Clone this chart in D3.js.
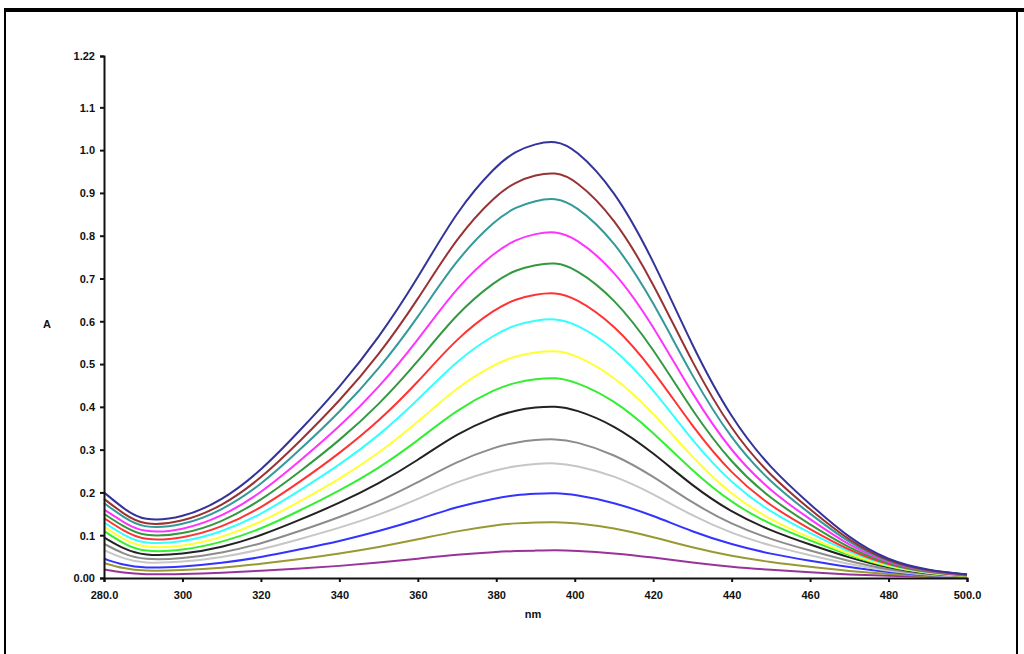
<!DOCTYPE html>
<html>
<head>
<meta charset="utf-8">
<script src="https://cdn.jsdelivr.net/npm/d3@7"></script>
<style>
  body { margin: 0; background: #fff; }
  svg { display: block; }
  .tick-label { font-family: "Liberation Sans", Arial, sans-serif; font-size: 11px; font-weight: bold; fill: #111; }
</style>
</head>
<body>
<div id="chart"></div>
<script>
const wavelengths = [280, 285, 290, 300, 310, 320, 330, 340, 350, 360, 370, 380, 385, 390, 395, 400, 410, 420, 430, 440, 450, 460, 470, 480, 490, 500];

const s1  = [0.200, 0.162, 0.132, 0.140, 0.180, 0.250, 0.345, 0.445, 0.560, 0.700, 0.860, 0.965, 0.998, 1.015, 1.023, 1.005, 0.910, 0.745, 0.540, 0.370, 0.255, 0.172, 0.092, 0.040, 0.018, 0.008];
const s2  = [0.185, 0.150, 0.122, 0.130, 0.167, 0.232, 0.320, 0.413, 0.520, 0.650, 0.798, 0.896, 0.926, 0.942, 0.949, 0.933, 0.845, 0.691, 0.501, 0.343, 0.237, 0.160, 0.086, 0.037, 0.017, 0.008];
const s3  = [0.175, 0.142, 0.115, 0.122, 0.157, 0.217, 0.300, 0.387, 0.487, 0.608, 0.747, 0.839, 0.867, 0.882, 0.889, 0.873, 0.791, 0.647, 0.469, 0.322, 0.222, 0.150, 0.081, 0.036, 0.016, 0.008];
const s4  = [0.160, 0.130, 0.105, 0.111, 0.143, 0.198, 0.274, 0.353, 0.444, 0.555, 0.682, 0.765, 0.791, 0.805, 0.811, 0.797, 0.722, 0.591, 0.428, 0.293, 0.202, 0.137, 0.075, 0.034, 0.015, 0.007];
const s5  = [0.150, 0.120, 0.096, 0.101, 0.130, 0.181, 0.249, 0.321, 0.404, 0.505, 0.620, 0.696, 0.720, 0.732, 0.738, 0.725, 0.656, 0.537, 0.389, 0.267, 0.184, 0.125, 0.069, 0.032, 0.014, 0.007];
const s6  = [0.140, 0.110, 0.087, 0.092, 0.118, 0.163, 0.225, 0.291, 0.366, 0.457, 0.562, 0.631, 0.652, 0.663, 0.668, 0.656, 0.594, 0.487, 0.353, 0.242, 0.167, 0.114, 0.064, 0.030, 0.013, 0.006];
const s7  = [0.130, 0.100, 0.079, 0.083, 0.107, 0.148, 0.205, 0.264, 0.332, 0.415, 0.510, 0.572, 0.592, 0.602, 0.607, 0.596, 0.540, 0.442, 0.320, 0.220, 0.153, 0.105, 0.060, 0.028, 0.012, 0.006];
const s8  = [0.120, 0.090, 0.070, 0.073, 0.094, 0.130, 0.179, 0.231, 0.291, 0.364, 0.447, 0.502, 0.519, 0.528, 0.532, 0.523, 0.473, 0.387, 0.281, 0.193, 0.135, 0.094, 0.055, 0.026, 0.011, 0.005];
const s9  = [0.110, 0.080, 0.060, 0.064, 0.083, 0.114, 0.158, 0.204, 0.256, 0.321, 0.394, 0.443, 0.457, 0.465, 0.469, 0.460, 0.417, 0.341, 0.250, 0.175, 0.124, 0.088, 0.052, 0.025, 0.011, 0.005];
const s10 = [0.095, 0.068, 0.052, 0.055, 0.071, 0.099, 0.136, 0.175, 0.220, 0.275, 0.338, 0.379, 0.392, 0.399, 0.402, 0.395, 0.358, 0.293, 0.215, 0.153, 0.110, 0.078, 0.047, 0.023, 0.010, 0.005];
const s11 = [0.080, 0.056, 0.042, 0.045, 0.058, 0.080, 0.110, 0.142, 0.178, 0.223, 0.273, 0.307, 0.317, 0.323, 0.325, 0.320, 0.290, 0.238, 0.175, 0.125, 0.090, 0.064, 0.039, 0.019, 0.008, 0.004];
const s12 = [0.065, 0.045, 0.034, 0.037, 0.048, 0.066, 0.091, 0.117, 0.147, 0.184, 0.226, 0.253, 0.262, 0.267, 0.269, 0.264, 0.240, 0.197, 0.145, 0.104, 0.075, 0.053, 0.032, 0.016, 0.007, 0.003];
const s13 = [0.045, 0.030, 0.023, 0.026, 0.035, 0.048, 0.067, 0.086, 0.109, 0.136, 0.167, 0.187, 0.194, 0.197, 0.199, 0.195, 0.177, 0.146, 0.108, 0.078, 0.056, 0.040, 0.025, 0.013, 0.006, 0.003];
const s14 = [0.035, 0.022, 0.016, 0.018, 0.023, 0.033, 0.044, 0.057, 0.072, 0.090, 0.110, 0.124, 0.128, 0.130, 0.131, 0.129, 0.117, 0.096, 0.071, 0.051, 0.037, 0.026, 0.016, 0.009, 0.004, 0.002];
const s15 = [0.020, 0.012, 0.008, 0.009, 0.012, 0.017, 0.022, 0.028, 0.036, 0.045, 0.055, 0.061, 0.063, 0.064, 0.065, 0.064, 0.058, 0.048, 0.036, 0.026, 0.019, 0.013, 0.008, 0.005, 0.003, 0.002];

const seriesColors = ['#333399', '#993333', '#339999', '#ff33ff', '#339940', '#ff3333', '#33ffff', '#ffff33',
                      '#33ee33', '#222222', '#8c8c8c', '#c6c6c6', '#3333ff', '#999933', '#993399'];

const yTicks = [0, 0.1, 0.2, 0.3, 0.4, 0.5, 0.6, 0.7, 0.8, 0.9, 1.0, 1.1, 1.22];
const yTickLabels = ['0.00', '0.1', '0.2', '0.3', '0.4', '0.5', '0.6', '0.7', '0.8', '0.9', '1.0', '1.1', '1.22'];
const xTicks = [280, 300, 320, 340, 360, 380, 400, 420, 440, 460, 480, 500];
const xTickLabels = ['280.0', '300', '320', '340', '360', '380', '400', '420', '440', '460', '480', '500.0'];

const allSeries = [s1, s2, s3, s4, s5, s6, s7, s8, s9, s10, s11, s12, s13, s14, s15];

const W = 1024, H = 654;
const svg = d3.select('#chart').append('svg')
    .attr('width', W)
    .attr('height', H);

// page frame (thick top, thin sides)
svg.append('rect').attr('x', 4).attr('y', 8).attr('width', W - 4).attr('height', 4).attr('fill', '#000');
svg.append('rect').attr('x', 4).attr('y', 8).attr('width', 2).attr('height', H - 8).attr('fill', '#000');
svg.append('rect').attr('x', 1016).attr('y', 8).attr('width', 2).attr('height', H - 8).attr('fill', '#000');

const x = d3.scaleLinear().domain([280, 500]).range([104, 967]);
const y = d3.scaleLinear().domain([0, 1.22]).range([578, 56]);

// curves, bottom one drawn first; basis smooths the hand-read points
const line = d3.line()
    .x((d, i) => x(wavelengths[i]))
    .y(d => y(d))
    .curve(d3.curveBasis);

svg.append('g')
    .selectAll('path')
    .data(allSeries.slice().reverse())
    .enter()
    .append('path')
    .attr('d', d => line(d))
    .attr('fill', 'none')
    .attr('stroke', (d, i) => seriesColors[allSeries.length - 1 - i])
    .attr('stroke-width', 2);

// Y axis
const yAxis = svg.append('g')
    .attr('transform', `translate(${x(280)},0)`)
    .call(d3.axisLeft(y)
        .tickValues(yTicks)
        .tickSize(4)
        .tickFormat((d, i) => yTickLabels[i]));
yAxis.select('.domain').attr('stroke', '#111').attr('stroke-width', 2);
yAxis.selectAll('.tick line').attr('stroke', '#111').attr('stroke-width', 2);
yAxis.selectAll('.tick text').attr('class', 'tick-label').attr('x', -9).attr('dy', '0.35em');

// X axis
const xAxis = svg.append('g')
    .attr('transform', `translate(0,${y(0)})`)
    .call(d3.axisBottom(x)
        .tickValues(xTicks)
        .tickSize(4)
        .tickFormat((d, i) => xTickLabels[i]));
xAxis.select('.domain').attr('stroke', '#111').attr('stroke-width', 2);
xAxis.selectAll('.tick line').attr('stroke', '#111').attr('stroke-width', 2);
xAxis.selectAll('.tick text').attr('class', 'tick-label').attr('y', 13);

// axis titles
svg.append('text')
    .attr('class', 'tick-label')
    .attr('x', 47)
    .attr('y', 328)
    .attr('text-anchor', 'middle')
    .text('A');

svg.append('text')
    .attr('class', 'tick-label')
    .attr('x', 533)
    .attr('y', 618)
    .attr('text-anchor', 'middle')
    .text('nm');
</script>
</body>
</html>
